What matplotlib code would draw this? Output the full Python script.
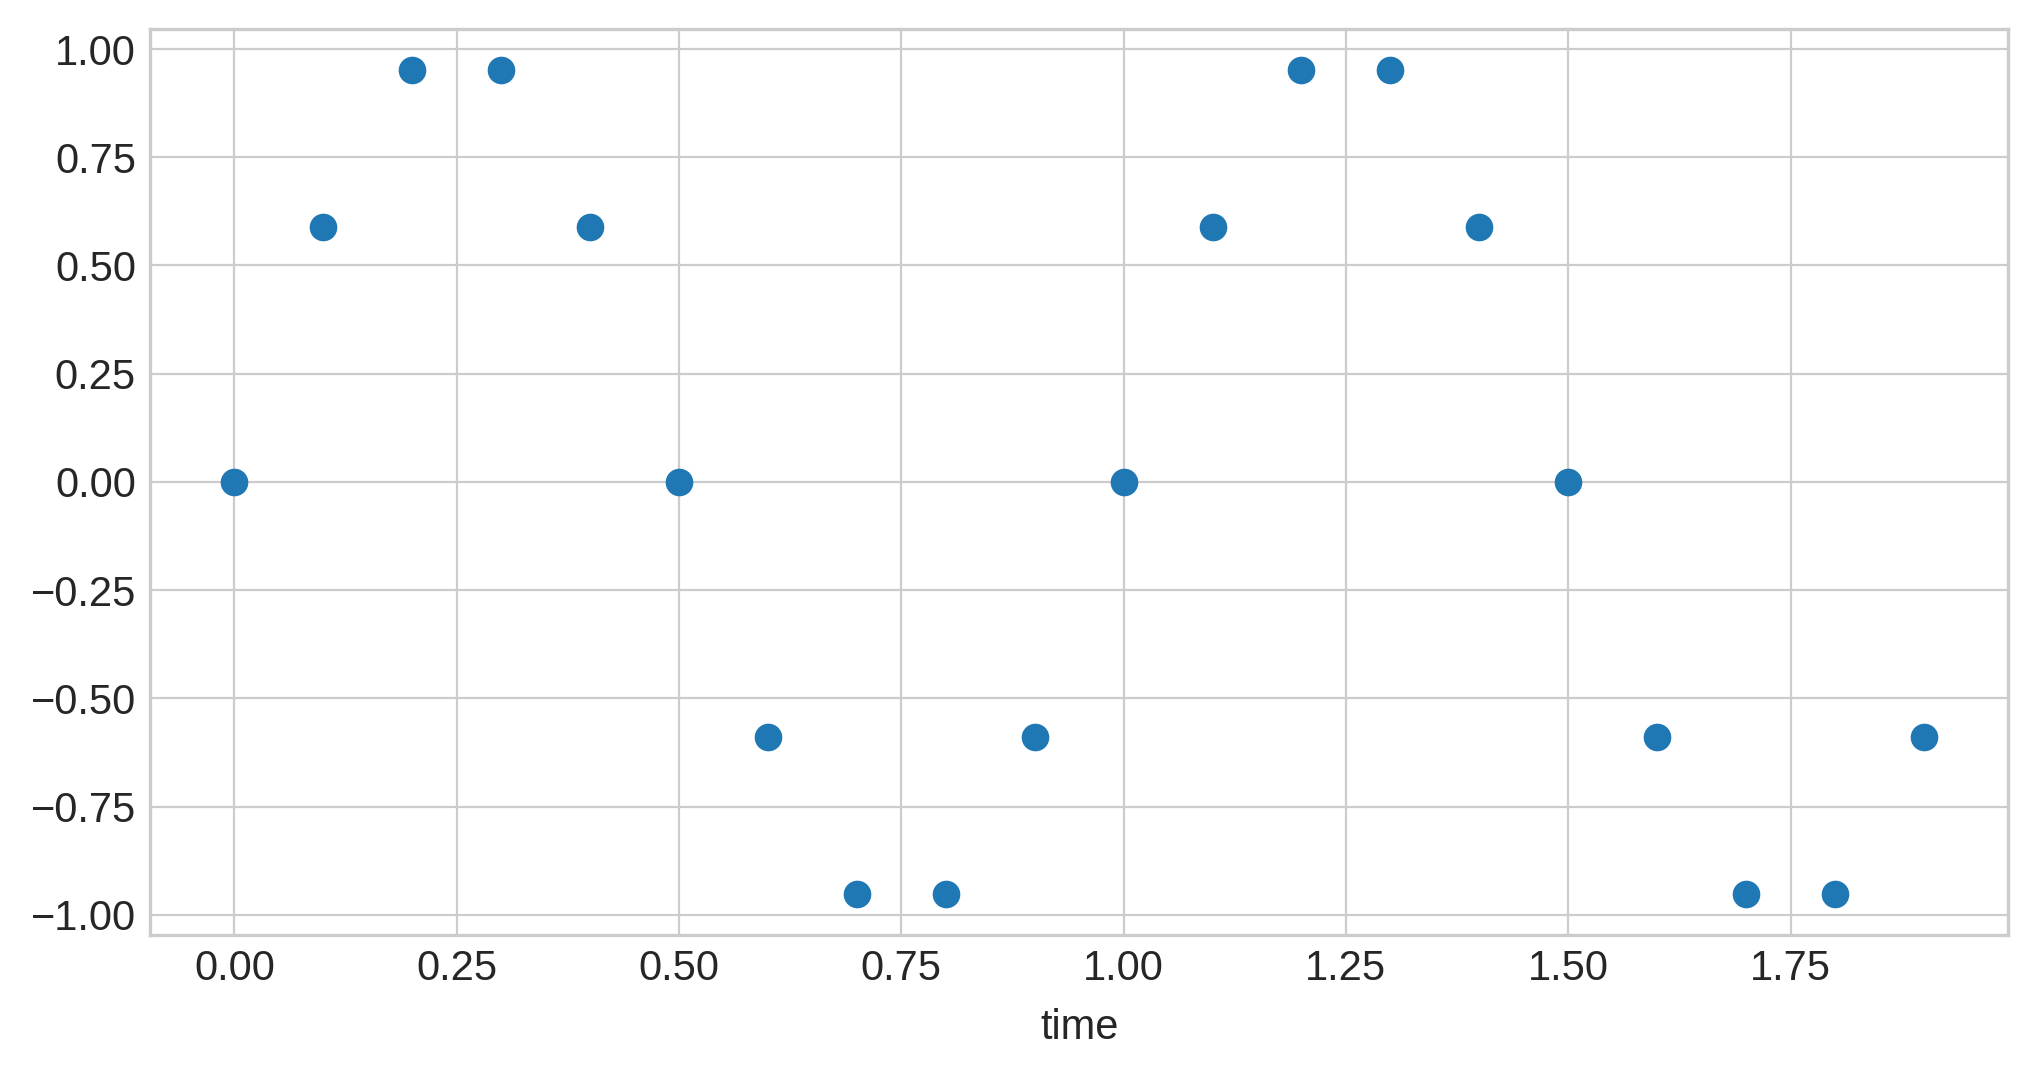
import matplotlib
matplotlib.use("Agg")
import matplotlib.pyplot as plt

time = [0.0, 0.1, 0.2, 0.3, 0.4, 0.5, 0.6, 0.7, 0.8, 0.9,
        1.0, 1.1, 1.2, 1.3, 1.4, 1.5, 1.6, 1.7, 1.8, 1.9]
signal = [0.0, 0.588, 0.951, 0.951, 0.588, 0.0, -0.588, -0.951, -0.951, -0.588,
          0.0, 0.588, 0.951, 0.951, 0.588, 0.0, -0.588, -0.951, -0.951, -0.588]

plt.style.use("seaborn-v0_8-whitegrid")
plt.rcParams['font.family'] = ['Liberation Sans', 'DejaVu Sans']

fig, ax = plt.subplots(figsize=(10.195, 5.385), dpi=200)
ax.scatter(time, signal, s=80, color='#1f77b4', zorder=3)
ax.set_xlabel('time', fontsize=15, labelpad=7)
ax.tick_params(labelsize=15, pad=5)
for sp in ax.spines.values():
    sp.set_visible(True)
    sp.set_color('#cccccc')
    sp.set_linewidth(1.2)

fig.subplots_adjust(left=0.0735, right=0.985, top=0.973, bottom=0.132)
fig.savefig('out.png')
